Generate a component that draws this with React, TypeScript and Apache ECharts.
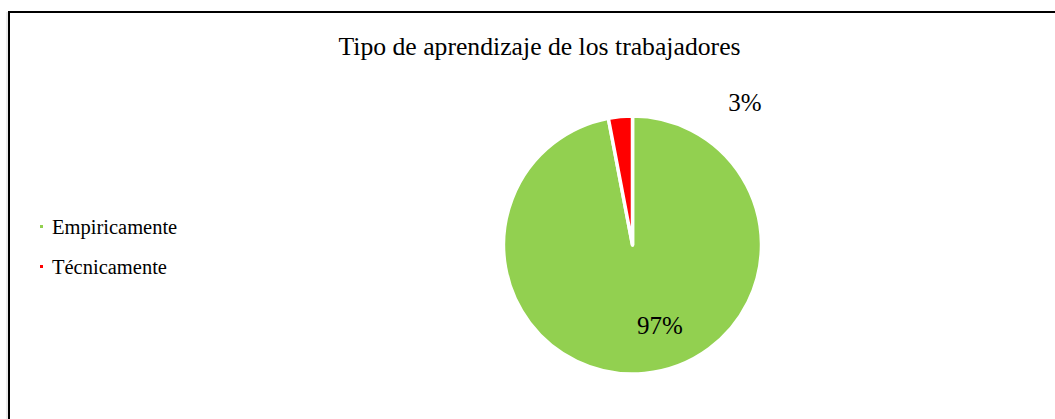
import React, { useEffect, useRef } from "react";
import * as echarts from "echarts";

const titleText = "Tipo de aprendizaje de los trabajadores";
const categories = ["Empiricamente", "Técnicamente"];
const values = [97, 3];
const colors = ["#92D050", "#FF0000"];
const labelPos = [
  [660, 325],
  [745, 102],
];

const FONT = "Liberation Serif";

export default function App() {
  const ref = useRef<HTMLDivElement>(null);
  useEffect(() => {
    if (!ref.current) return;
    const chart = echarts.init(ref.current, null, { renderer: "svg" });
    chart.setOption({
      animation: false,
      backgroundColor: "#ffffff",
      title: {
        text: titleText,
        left: 539.5,
        top: 33,
        padding: 0,
        textAlign: "center",
        textStyle: { fontFamily: FONT, fontSize: 25.7, fontWeight: "normal", color: "#000" },
      },
      legend: {
        orient: "vertical",
        left: 38,
        top: 216,
        padding: 0,
        itemWidth: 5,
        itemHeight: 5,
        itemGap: 19,
        icon: "rect",
        data: categories,
        textStyle: { fontFamily: FONT, fontSize: 20.5, color: "#000", lineHeight: 20, padding: [0, 0, 0, 3] },
      },
      graphic: [
        { type: "line", shape: { x1: 7, y1: 12, x2: 7, y2: 430 }, style: { stroke: "#d8d8d8", lineWidth: 1 } },
        { type: "line", shape: { x1: 9, y1: 11, x2: 9, y2: 430 }, style: { stroke: "#000", lineWidth: 2 } },
        { type: "line", shape: { x1: 8, y1: 12, x2: 1100, y2: 12 }, style: { stroke: "#000", lineWidth: 2 } },
      ],
      series: [
        {
          type: "pie",
          center: [632.5, 245],
          radius: 129,
          startAngle: 90,
          clockwise: true,
          itemStyle: { borderColor: "#fff", borderWidth: 3.5 },
          label: {
            show: true,
            formatter: "{d}%",
            fontFamily: FONT,
            fontSize: 25,
            color: "#000",
          },
          labelLine: { show: false },
          labelLayout: (p: any) => ({
            x: labelPos[p.dataIndex][0],
            y: labelPos[p.dataIndex][1],
            align: "center",
            verticalAlign: "middle",
          }),
          emphasis: { disabled: true },
          data: categories.map((c, i) => ({
            name: c,
            value: values[i],
            itemStyle: { color: colors[i] },
          })),
        },
      ],
    });
    return () => chart.dispose();
  }, []);
  return (
    <div
      ref={ref}
      style={{ position: "absolute", left: 0, top: 0, width: 1055, height: 419 }}
    />
  );
}
